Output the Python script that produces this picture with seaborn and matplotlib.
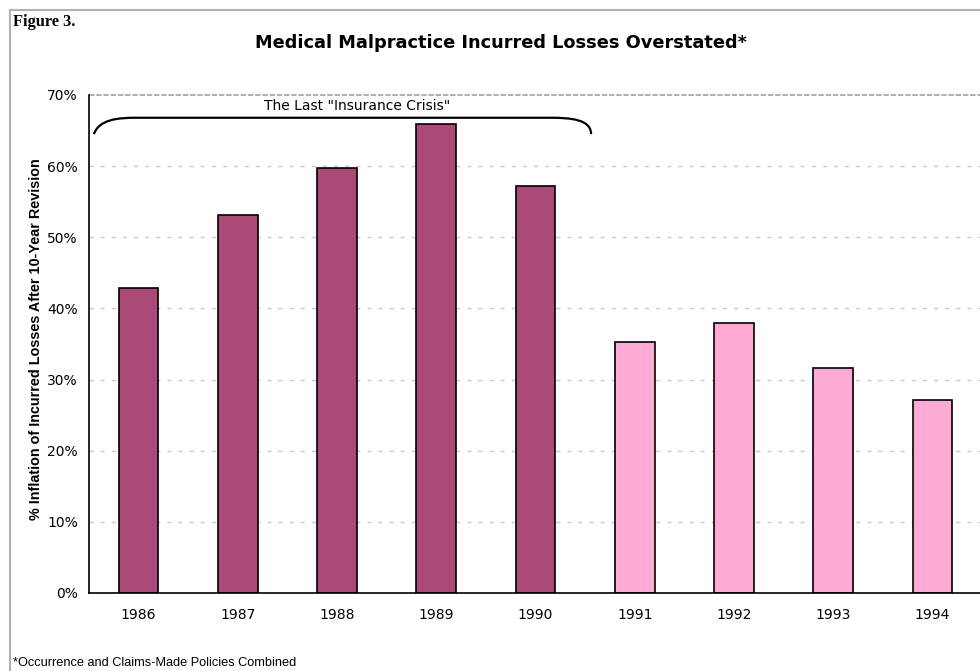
import matplotlib
matplotlib.use("Agg")
import matplotlib.pyplot as plt
import seaborn as sns
import pandas as pd
from matplotlib.path import Path
from matplotlib.patches import PathPatch, Rectangle

years = ["1986", "1987", "1988", "1989", "1990", "1991", "1992", "1993", "1994"]
inflation = [42.9, 53.1, 59.7, 65.9, 57.2, 35.3, 38.0, 31.6, 27.1]
period = ["crisis"] * 5 + ["later"] * 4
palette = {"crisis": "#AB4A76", "later": "#FFAAD4"}
yticks = [0, 10, 20, 30, 40, 50, 60, 70]
ytick_labels = ["0%", "10%", "20%", "30%", "40%", "50%", "60%", "70%"]

title = "Medical Malpractice Incurred Losses Overstated*"
ylabel = "% Inflation of Incurred Losses After 10-Year Revision"
bracket_label = 'The Last "Insurance Crisis"'
footnote = "*Occurrence and Claims-Made Policies Combined"

sns.set_style("white")
plt.rcParams["font.family"] = ["DejaVu Sans"]
plt.rcParams["text.color"] = "black"
plt.rcParams["xtick.color"] = "black"
plt.rcParams["ytick.color"] = "black"
plt.rcParams["axes.labelcolor"] = "black"

df = pd.DataFrame({"year": years, "value": inflation, "period": period})

fig = plt.figure(figsize=(9.8, 6.71), dpi=100)
W, H = 980, 671
ax = fig.add_axes([89 / W, 1 - 593 / H, (982 - 89) / W, (593 - 95) / H])

sns.barplot(data=df, x="year", y="value", hue="period", palette=palette,
            dodge=False, width=0.4, edgecolor="black", linewidth=1.2,
            legend=False, ax=ax, saturation=1)

ax.set_xlim(-0.5, len(years) - 0.5)
ax.set_ylim(0, 70)
ax.set_yticks(yticks)
ax.set_yticklabels(ytick_labels, fontsize=10)
ax.set_xticks(range(len(years)))
ax.set_xticklabels(years, fontsize=10)
ax.set_xticks([i - 0.5 for i in range(len(years) + 1)], minor=True)
ax.tick_params(axis="x", which="major", length=0, pad=11)
ax.tick_params(axis="x", which="minor", length=5, width=1, color="black", direction="out")
ax.tick_params(axis="y", which="major", length=5, width=1, color="black", direction="out", pad=3)
ax.set_xlabel("")
ax.set_ylabel(ylabel, fontsize=10.4, fontweight="bold",
              family=["Liberation Sans Narrow", "Liberation Sans", "DejaVu Sans"])
ax.yaxis.set_label_coords(-46 / (982 - 89), 0.51)

for y in yticks[1:-1]:
    ax.axhline(y, color="#c8c8c8", lw=1, ls=(0, (3, 5)), zorder=0)
ax.axhline(70, color="#a8a8a8", lw=1.3, ls=(0, (3, 1)), zorder=0, clip_on=False)

for s in ["top", "right"]:
    ax.spines[s].set_visible(False)
for s in ["left", "bottom"]:
    ax.spines[s].set_color("black")
    ax.spines[s].set_linewidth(1.2)

# bracket
verts = [(-0.45, 64.5), (-0.40, 66.6), (-0.2, 66.8), (-0.03, 66.8),
         (4.15, 66.8),
         (4.35, 66.8), (4.56, 66.6), (4.56, 64.5)]
codes = [Path.MOVETO, Path.CURVE4, Path.CURVE4, Path.CURVE4,
         Path.LINETO,
         Path.CURVE4, Path.CURVE4, Path.CURVE4]
ax.add_patch(PathPatch(Path(verts, codes), fill=False, lw=1.6, color="black", clip_on=False))
ax.text(2.2, 68.4, bracket_label, ha="center", va="center", fontsize=10)

fig.text(501 / W, 1 - 43 / H, title, ha="center", va="center", fontsize=12.8, fontweight="bold")
fig.text(13 / W, 1 - 22 / H, "Figure 3.", ha="left", va="center", fontsize=11.8,
         fontweight="bold", family=["Liberation Serif", "DejaVu Serif"])
fig.text(13 / W, 1 - 663 / H, footnote, ha="left", va="center", fontsize=9.2,
         family=["Liberation Sans", "DejaVu Sans"])

fig.patches.append(Rectangle((10 / W, -0.05), 1.2, 1 - 10 / H + 0.05, transform=fig.transFigure,
                             fill=False, edgecolor="#b0b0b0", lw=1.5))

fig.savefig("out.png", dpi=100)
